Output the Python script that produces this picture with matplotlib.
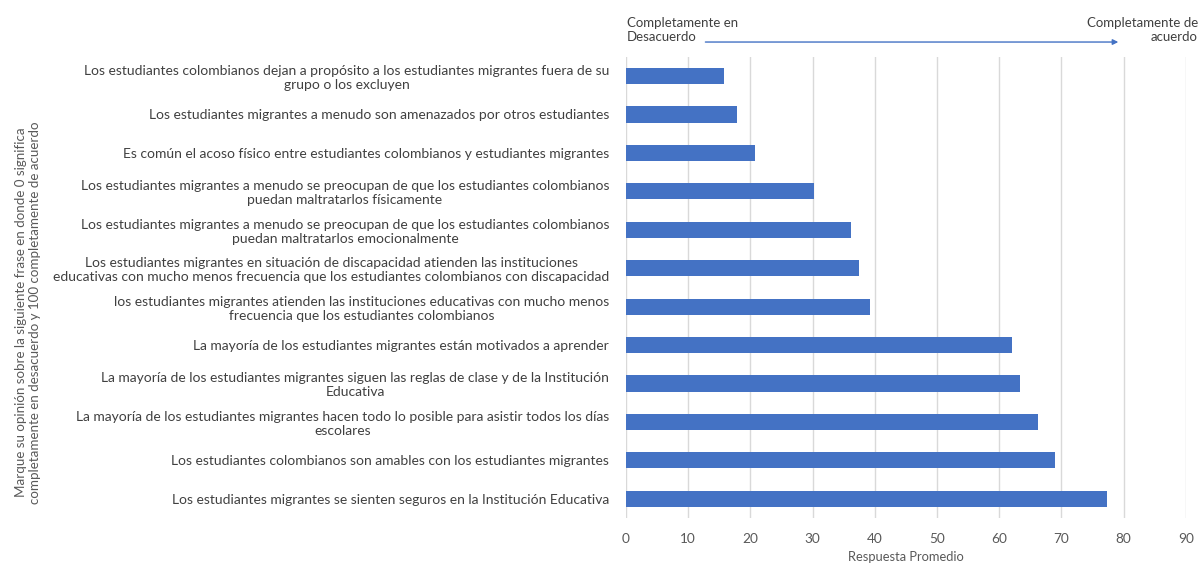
import matplotlib
matplotlib.use("Agg")
import matplotlib.pyplot as plt

plt.rcParams['font.family'] = ['Lato', 'DejaVu Sans']

categories = [
    "Los estudiantes colombianos dejan a propósito a los estudiantes migrantes fuera de su\ngrupo o los excluyen",
    "Los estudiantes migrantes a menudo son amenazados por otros estudiantes",
    "Es común el acoso físico entre estudiantes colombianos y estudiantes migrantes",
    "Los estudiantes migrantes a menudo se preocupan de que los estudiantes colombianos\npuedan maltratarlos físicamente",
    "Los estudiantes migrantes a menudo se preocupan de que los estudiantes colombianos\npuedan maltratarlos emocionalmente",
    "Los estudiantes migrantes en situación de discapacidad atienden las instituciones\neducativas con mucho menos frecuencia que los estudiantes colombianos con discapacidad",
    "los estudiantes migrantes atienden las instituciones educativas con mucho menos\nfrecuencia que los estudiantes colombianos",
    "La mayoría de los estudiantes migrantes están motivados a aprender",
    "La mayoría de los estudiantes migrantes siguen las reglas de clase y de la Institución\nEducativa",
    "La mayoría de los estudiantes migrantes hacen todo lo posible para asistir todos los días\nescolares",
    "Los estudiantes colombianos son amables con los estudiantes migrantes",
    "Los estudiantes migrantes se sienten seguros en la Institución Educativa",
]
values = [15.8, 17.8, 20.7, 30.2, 36.2, 37.5, 39.3, 62.0, 63.3, 66.2, 69.0, 77.4]
xticks = [0, 10, 20, 30, 40, 50, 60, 70, 80, 90]

fig = plt.figure(figsize=(11.99, 5.68), dpi=100)
ax = fig.add_axes([0.522, 0.088, 0.467, 0.812])

ypos = list(range(len(categories)))
ax.barh(ypos, values, height=0.42, color='#4472C4', zorder=3)
ax.set_ylim(len(categories) - 0.5, -0.5)
ax.set_xlim(0, 90)
ax.set_xticks(xticks)
ax.set_yticks(ypos)
ax.set_yticklabels(categories, fontsize=10, color='#404040', multialignment='center')
ax.tick_params(axis='y', length=0, pad=12)
ax.tick_params(axis='x', length=0, pad=11, labelsize=9.8, labelcolor='#595959')
ax.grid(axis='x', color='#D9D9D9', linewidth=1, zorder=0)
for s in ax.spines.values():
    s.set_visible(False)

ax.set_xlabel("Respuesta Promedio", fontsize=9.3, color='#595959', labelpad=4)

fig.text(0.023, 0.45, "Marque su opinión sobre la siguiente frase en donde 0 significa\ncompletamente en desacuerdo y 100 completamente de acuerdo",
         rotation=90, ha='center', va='center', fontsize=9.6, color='#595959', multialignment='center')

fig.text(0.523, 0.948, "Completamente en\nDesacuerdo", ha='left', va='center', fontsize=9.5, color='#404040')
fig.text(0.999, 0.948, "Completamente de\nacuerdo", ha='right', va='center', fontsize=9.5, color='#404040', multialignment='right')
fig.add_artist(matplotlib.patches.FancyArrowPatch((0.586, 0.926), (0.935, 0.926), transform=fig.transFigure,
               arrowstyle='-|>', mutation_scale=8, color='#4472C4', linewidth=1))

fig.savefig("out.png", dpi=100)
